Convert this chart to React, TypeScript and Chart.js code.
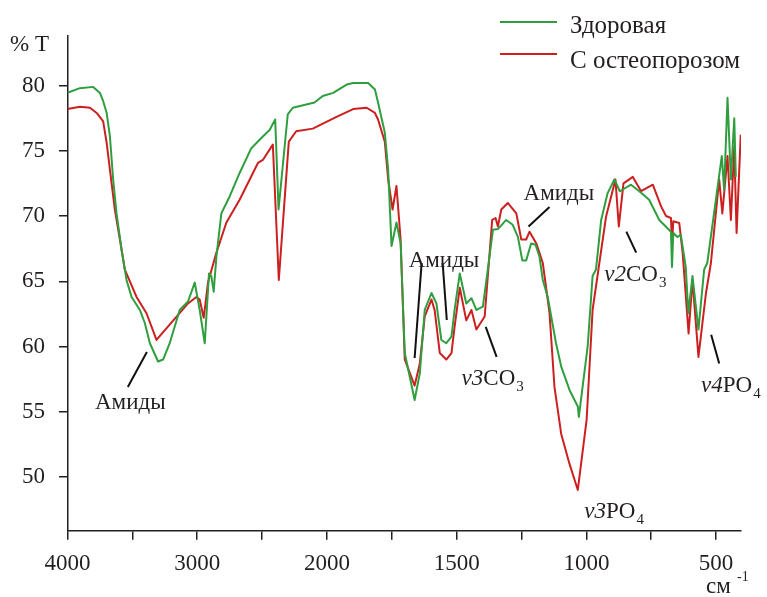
import React, { useEffect, useRef } from "react";
import { Chart, registerables } from "chart.js";

Chart.register(...registerables);

// ---------- data (wavenumber, cm^-1 ; transmittance, %) ----------
const WN_HEALTHY = [
  4000, 3904, 3802, 3750, 3725, 3698, 3673, 3648, 3622, 3583, 3545, 3506, 3442, 3404, 3365, 3302, 3263, 3212,
  3135, 3071, 3019, 2981, 2942, 2909, 2891, 2873, 2852, 2814, 2750, 2673, 2583, 2494, 2442, 2399, 2373, 2302,
  2263, 2096, 2032, 1976, 1924, 1899, 1841, 1815, 1803, 1777, 1764, 1751, 1732, 1716, 1700, 1681, 1662, 1642,
  1623, 1597, 1578, 1559, 1540, 1520, 1508, 1488, 1463, 1443, 1424, 1399, 1380, 1360, 1341, 1309, 1284, 1264,
  1247, 1232, 1213, 1196, 1181, 1168, 1149, 1117, 1097, 1065, 1033, 1029, 995, 976, 963, 943, 918, 892, 871,
  828, 796, 758, 719, 674, 670, 665, 649, 636, 617, 607, 591, 568, 546, 534, 508, 478, 469, 456, 443, 430, 424,
];
const T_HEALTHY = [
  79.45, 79.8, 79.9, 79.44, 78.8, 77.9, 76.1, 72.8, 70.2, 67.4, 65.1, 63.8, 62.8, 61.8, 60.25, 58.85, 59.0, 60.25,
  62.8, 63.45, 64.9, 62.8, 60.25, 65.6, 65.4, 64.2, 66.9, 70.2, 71.5, 73.3, 75.2, 76.1, 76.6, 77.4, 70.5, 77.8,
  78.3, 78.7, 79.2, 79.44, 80.08, 80.2, 80.2, 79.7, 78.7, 76.4, 73.55, 67.7, 69.5, 67.9, 59.5, 57.7, 55.9, 57.95,
  62.8, 64.1, 63.3, 60.5, 60.25, 60.76, 62.8, 65.6, 63.3, 63.7, 62.8, 63.06, 65.9, 68.95, 69.0, 69.7, 69.33, 68.4,
  66.6, 66.6, 67.9, 67.8, 66.9, 65.1, 63.8, 60.25, 58.46, 56.67, 55.4, 54.6, 60.0, 65.4, 65.9, 69.7, 71.76, 72.8, 71.9,
  72.4, 71.9, 71.25, 69.7, 68.8, 66.1, 68.7, 68.4, 68.56, 66.1, 62.55, 65.4, 61.3, 65.9, 66.4, 70.2, 74.6, 72.0, 79.06, 72.8, 77.5, 73.0,
];

const WN_OSTEO = [
  4000, 3904, 3827, 3775, 3725, 3698, 3673, 3635, 3596, 3558, 3468, 3391, 3314, 3071, 3006, 2981, 2950, 2917,
  2852, 2775, 2673, 2532, 2494, 2417, 2371, 2294, 2237, 2109, 1963, 1899, 1847, 1815, 1803, 1777, 1764, 1747,
  1732, 1716, 1700, 1662, 1642, 1623, 1597, 1585, 1565, 1540, 1520, 1508, 1488, 1463, 1443, 1424, 1392, 1363,
  1350, 1341, 1328, 1303, 1270, 1251, 1232, 1219, 1193, 1168, 1142, 1123, 1097, 1065, 1033, 999, 976, 950, 924,
  888, 875, 857, 821, 789, 744, 712, 693, 674, 670, 665, 642, 629, 606, 591, 568, 539, 520, 488, 476, 456, 443,
  430, 421, 405,
];
const T_OSTEO = [
  78.2, 78.37, 78.3, 77.9, 77.26, 75.6, 73.55, 70.5, 68.2, 65.9, 63.8, 62.55, 60.5, 63.3, 63.8, 63.6, 62.2, 64.9,
  67.2, 69.5, 71.25, 74.07, 74.3, 75.47, 65.1, 75.7, 76.5, 76.7, 77.6, 78.2, 78.3, 77.9, 77.4, 75.7, 72.8, 70.5,
  72.3, 68.2, 59.0, 57.0, 58.7, 62.3, 63.6, 62.8, 59.5, 59.0, 59.5, 61.5, 64.5, 62.0, 62.8, 61.3, 62.3, 69.7,
  69.85, 69.2, 70.5, 71.0, 70.2, 68.2, 68.2, 68.8, 67.9, 66.4, 62.55, 56.9, 53.3, 51.0, 49.0, 54.4, 62.8, 66.4, 69.97,
  72.8, 69.2, 72.5, 73.0, 71.9, 72.4, 70.74, 70.0, 69.85, 67.9, 69.6, 69.46, 67.2, 61.0, 65.1, 59.2, 64.1, 66.4, 72.8, 70.2, 74.6, 69.7,
  75.35, 68.7, 76.24,
];

const SERIES_LABELS = ["Здоровая", "С остеопорозом"];
const SERIES_COLORS = ["#2f9e3f", "#cc1f1f"];

const X_TICKS = [4000, 3500, 3000, 2500, 2000, 1750, 1500, 1250, 1000, 750, 500];
const X_TICK_LABELS = [4000, 3000, 2000, 1500, 1000, 500];
const Y_TICKS = [50, 55, 60, 65, 70, 75, 80];
const Y_MIN = 45.88;
const Y_MAX = 83.8;
const X_MIN_WN = 404;
const X_MAX_WN = 4000;

// annotation texts: [wavenumber, %T] of the text baseline start
const ANNOTATIONS = [
  { wn: 3788, t: 55.21, parts: [{ s: "Амиды" }] },
  { wn: 1685, t: 66.12, parts: [{ s: "Амиды" }] },
  { wn: 1481, t: 57.05, parts: [{ s: "v3", i: true }, { s: "CO" }, { s: "3", sub: true }] },
  { wn: 1242, t: 71.23, parts: [{ s: "Амиды" }] },
  { wn: 931, t: 65.02, parts: [{ s: "v2", i: true }, { s: "CO" }, { s: "3", sub: true }] },
  { wn: 558, t: 56.51, parts: [{ s: "v4", i: true }, { s: "PO" }, { s: "4", sub: true }] },
  { wn: 1008, t: 46.85, parts: [{ s: "v3", i: true }, { s: "PO" }, { s: "4", sub: true }] },
];
// leader lines: [wn1, %T1, wn2, %T2]
const LEADERS = [
  [3535, 56.89, 3388, 59.58],
  [1635, 66.4, 1662, 59.12],
  [1554, 66.4, 1538, 62.03],
  [1388, 61.5, 1346, 59.2],
  [1142, 70.7, 1223, 69.2],
  [846, 68.8, 808, 67.2],
  [519, 60.9, 488, 58.7],
];

// ---------- axis break: above 2000 cm^-1 the scale is compressed 2x ----------
const tf = (wn: number) => (wn <= 2000 ? wn : 2000 + (wn - 2000) / 2);
const itf = (t: number) => (t <= 2000 ? t : 2000 + (t - 2000) * 2);

const FONT = '"Liberation Serif", "Times New Roman", serif';
const INK = "#231f20";

const overlayPlugin = {
  id: "overlay",
  afterDraw(chart: any) {
    const { ctx, scales } = chart;
    const xs = scales.x;
    const ys = scales.y;
    const px = (wn: number) => xs.getPixelForValue(tf(wn));
    const py = (v: number) => ys.getPixelForValue(v);
    ctx.save();
    // leader lines
    ctx.strokeStyle = "#111";
    ctx.lineWidth = 2;
    LEADERS.forEach(([a, b, c, d]) => {
      ctx.beginPath();
      ctx.moveTo(px(a), py(b));
      ctx.lineTo(px(c), py(d));
      ctx.stroke();
    });
    // annotation texts
    ctx.fillStyle = INK;
    ctx.textBaseline = "alphabetic";
    ctx.textAlign = "left";
    ANNOTATIONS.forEach((a) => {
      let x = px(a.wn);
      const y = py(a.t);
      a.parts.forEach((p: any) => {
        if (p.sub) {
          ctx.font = `15px ${FONT}`;
          ctx.fillText(p.s, x + 1, y + 6);
          x += ctx.measureText(p.s).width + 1;
        } else {
          ctx.font = `${p.i ? "italic " : ""}23px ${FONT}`;
          ctx.fillText(p.s, x, y);
          x += ctx.measureText(p.s).width;
        }
      });
    });
    // legend
    const lx1 = 500, lx2 = 557, tx = 570;
    const rows = [
      { ly: 22, by: 33 },
      { ly: 54, by: 68 },
    ];
    chart.data.datasets.forEach((ds: any, i: number) => {
      ctx.strokeStyle = ds.borderColor;
      ctx.lineWidth = 2;
      ctx.beginPath();
      ctx.moveTo(lx1, rows[i].ly);
      ctx.lineTo(lx2, rows[i].ly);
      ctx.stroke();
      ctx.fillStyle = INK;
      ctx.font = `25px ${FONT}`;
      ctx.fillText(ds.label, tx, rows[i].by);
    });
    // axis titles
    ctx.font = `23px ${FONT}`;
    ctx.fillText("% T", 10, 51);
    ctx.fillText("см", 706, 593);
    ctx.font = `14px ${FONT}`;
    ctx.fillText("-1", 737, 581);
    ctx.restore();
  },
};

export default function App() {
  const ref = useRef<HTMLCanvasElement | null>(null);
  useEffect(() => {
    if (!ref.current) return;
    const chart = new Chart(ref.current, {
      type: "line",
      data: {
        datasets: [
          {
            label: SERIES_LABELS[0],
            data: WN_HEALTHY.map((w, i) => ({ x: tf(w), y: T_HEALTHY[i] })),
            borderColor: SERIES_COLORS[0],
            backgroundColor: SERIES_COLORS[0],
            borderWidth: 2,
            pointRadius: 0,
            tension: 0,
            borderJoinStyle: "round",
          },
          {
            label: SERIES_LABELS[1],
            data: WN_OSTEO.map((w, i) => ({ x: tf(w), y: T_OSTEO[i] })),
            borderColor: SERIES_COLORS[1],
            backgroundColor: SERIES_COLORS[1],
            borderWidth: 2,
            pointRadius: 0,
            tension: 0,
            borderJoinStyle: "round",
          },
        ],
      },
      options: {
        animation: false,
        responsive: false,
        maintainAspectRatio: false,
        layout: { padding: { top: 36, right: 26, left: 0, bottom: 0 } },
        plugins: { legend: { display: false }, tooltip: { enabled: false } },
        scales: {
          x: {
            type: "linear",
            reverse: true,
            min: tf(X_MIN_WN),
            max: tf(X_MAX_WN),
            afterBuildTicks: (s: any) => {
              s.ticks = X_TICKS.map((w) => ({ value: tf(w) }));
            },
            afterFit: (s: any) => {
              s.height = 597 - 530.7;
            },
            ticks: {
              autoSkip: false,
              maxRotation: 0,
              padding: 10,
              color: INK,
              font: { family: FONT, size: 23 },
              callback: (v: any) => {
                const w = Math.round(itf(Number(v)));
                return X_TICK_LABELS.includes(w) ? String(w) : "";
              },
            },
            grid: { drawOnChartArea: false, drawTicks: true, tickLength: 9, color: INK, lineWidth: 1.5 },
            border: { display: true, color: INK, width: 1.5 },
          },
          y: {
            type: "linear",
            min: Y_MIN,
            max: Y_MAX,
            afterBuildTicks: (s: any) => {
              s.ticks = Y_TICKS.map((v) => ({ value: v }));
            },
            afterFit: (s: any) => {
              s.width = 67.5;
            },
            ticks: {
              padding: 14,
              color: INK,
              font: { family: FONT, size: 23 },
              callback: (v: any) => String(v),
            },
            grid: { drawOnChartArea: false, drawTicks: true, tickLength: 8.5, color: INK, lineWidth: 1.5 },
            border: { display: true, color: INK, width: 1.5 },
          },
        },
      },
      plugins: [overlayPlugin],
    } as any);
    return () => chart.destroy();
  }, []);
  return (
    <div style={{ position: "fixed", left: 0, top: 0, width: 767, height: 597, background: "#fff" }}>
      <canvas ref={ref} width={767} height={597} style={{ display: "block", width: 767, height: 597 }} />
    </div>
  );
}
